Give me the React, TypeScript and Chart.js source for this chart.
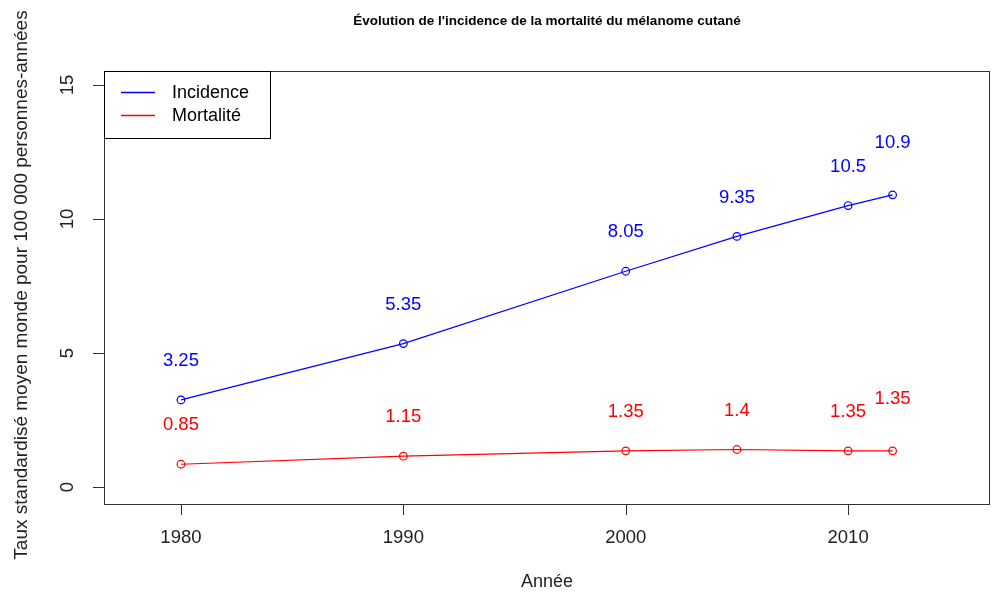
import React, { useEffect, useRef } from "react";
import { Chart, registerables } from "chart.js";

Chart.register(...registerables);

const years = [1980, 1990, 2000, 2005, 2010, 2012];
const incidence = [3.25, 5.35, 8.05, 9.35, 10.5, 10.9];
const mortalite = [0.85, 1.15, 1.35, 1.4, 1.35, 1.35];
const xTicks = [1980, 1990, 2000, 2010];
const yTicks = [0, 5, 10, 15];
const seriesNames = ["Incidence", "Mortalité"];
const seriesColors = ["#0000FF", "#FF0000"];
const title = "Évolution de l'incidence de la mortalité du mélanome cutané";
const xTitle = "Année";
const yTitle = "Taux standardisé moyen monde pour 100 000 personnes-années";

const FONT = "'Liberation Sans', Arial, sans-serif";

const overlay = {
  id: "rbase",
  afterDatasetsDraw(chart: any) {
    const { ctx, chartArea: a, scales } = chart;
    const xs = scales.x, ys = scales.y;
    ctx.save();
    // data labels
    ctx.font = `18.5px ${FONT}`;
    ctx.textAlign = "center";
    ctx.textBaseline = "middle";
    const sets = [incidence, mortalite];
    sets.forEach((vals, si) => {
      ctx.fillStyle = seriesColors[si];
      vals.forEach((v, i) => {
        const off = i === vals.length - 1 ? 1.95 : 1.45;
        ctx.fillText(String(v), xs.getPixelForValue(years[i]), ys.getPixelForValue(v + off));
      });
    });
    // box
    ctx.strokeStyle = "#333";
    ctx.lineWidth = 1;
    ctx.strokeRect(a.left + 0.5, a.top + 0.5, a.right - a.left - 1, a.bottom - a.top - 1);
    // ticks
    ctx.fillStyle = "#222";
    ctx.font = `18.5px ${FONT}`;
    ctx.beginPath();
    xTicks.forEach((t) => {
      const px = Math.round(xs.getPixelForValue(t)) + 0.5;
      ctx.moveTo(px, a.bottom);
      ctx.lineTo(px, a.bottom + 10);
    });
    yTicks.forEach((t) => {
      const py = Math.round(ys.getPixelForValue(t)) + 0.5;
      ctx.moveTo(a.left, py);
      ctx.lineTo(a.left - 11, py);
    });
    ctx.stroke();
    xTicks.forEach((t) => {
      ctx.fillText(String(t), xs.getPixelForValue(t), a.bottom + 33);
    });
    yTicks.forEach((t) => {
      ctx.save();
      ctx.translate(a.left - 36, ys.getPixelForValue(t));
      ctx.rotate(-Math.PI / 2);
      ctx.fillText(String(t), 0, 0);
      ctx.restore();
    });
    // axis titles
    ctx.font = `18px ${FONT}`;
    ctx.fillText(xTitle, (a.left + a.right) / 2, 582);
    ctx.save();
    ctx.font = `19px ${FONT}`;
    ctx.translate(22, (a.top + a.bottom) / 2 - 3);
    ctx.rotate(-Math.PI / 2);
    ctx.fillText(yTitle, 0, 0);
    ctx.restore();
    // title
    ctx.font = `bold 13.5px ${FONT}`;
    ctx.fillStyle = "#000";
    ctx.fillText(title, (a.left + a.right) / 2, 21);
    // legend
    ctx.fillStyle = "#fff";
    ctx.fillRect(a.left, a.top, 166, 67);
    ctx.strokeStyle = "#000";
    ctx.strokeRect(a.left + 0.5, a.top + 0.5, 166, 67);
    ctx.font = `18px ${FONT}`;
    ctx.textAlign = "left";
    seriesNames.forEach((n, i) => {
      const y = a.top + 21.5 + i * 23;
      ctx.strokeStyle = seriesColors[i];
      ctx.lineWidth = 1.3;
      ctx.beginPath();
      ctx.moveTo(a.left + 17, y);
      ctx.lineTo(a.left + 51, y);
      ctx.stroke();
      ctx.fillStyle = "#000";
      ctx.fillText(n, a.left + 68, y + 1);
    });
    ctx.restore();
  },
};

export default function App() {
  const ref = useRef<HTMLCanvasElement>(null);
  useEffect(() => {
    document.body.style.margin = "0";
    const mk = (vals: number[], i: number) => ({
      label: seriesNames[i],
      data: years.map((y, k) => ({ x: y, y: vals[k] })),
      borderColor: seriesColors[i],
      backgroundColor: "rgba(0,0,0,0)",
      pointBorderColor: seriesColors[i],
      pointBackgroundColor: "rgba(0,0,0,0)",
      borderWidth: 1.2,
      pointRadius: 3.8,
      pointBorderWidth: 1.2,
      tension: 0,
    });
    const chart = new Chart(ref.current!, {
      type: "line",
      data: { datasets: [mk(incidence, 0), mk(mortalite, 1)] },
      options: {
        animation: false,
        responsive: false,
        layout: { autoPadding: false, padding: { left: 104, right: 2, top: 71, bottom: 91 } },
        plugins: { legend: { display: false }, tooltip: { enabled: false }, title: { display: false } },
        scales: {
          x: { type: "linear", display: false, min: 1976.54, max: 2016.38 },
          y: { type: "linear", display: false, min: -0.67, max: 15.52 },
        },
      },
      plugins: [overlay],
    });
    return () => chart.destroy();
  }, []);
  return <canvas ref={ref} width={992} height={596} style={{ display: "block" }} />;
}
